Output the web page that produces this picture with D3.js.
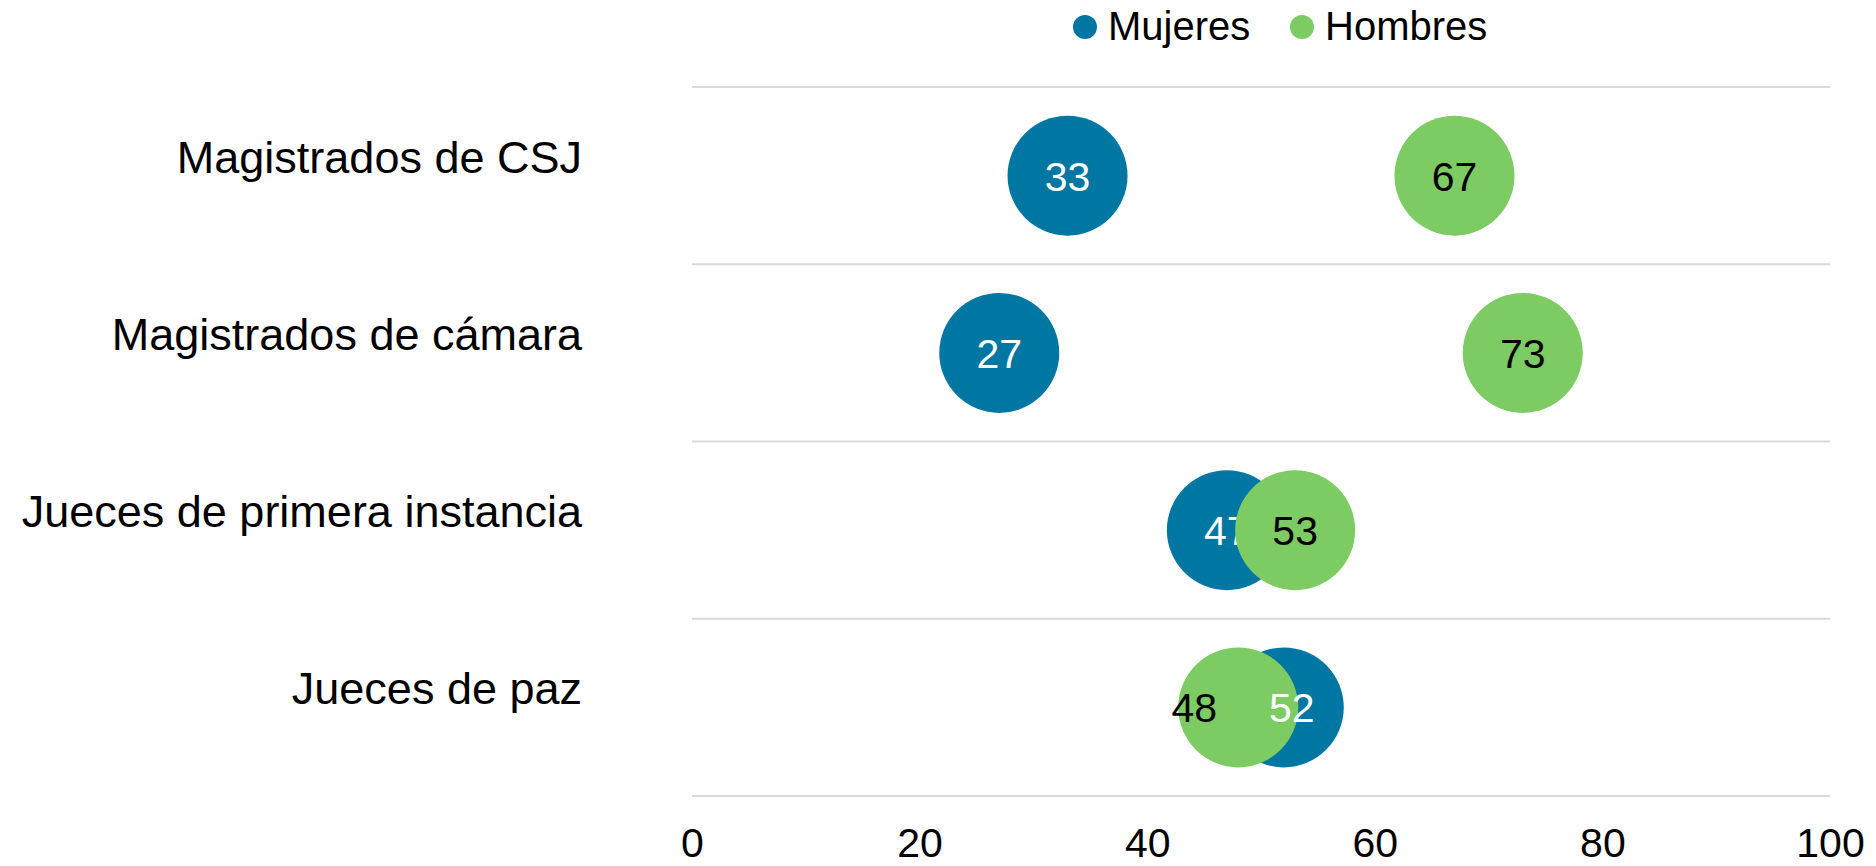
<!DOCTYPE html>
<html>
<head>
<meta charset="utf-8">
<script src="https://cdn.jsdelivr.net/npm/d3@7"></script>
<style>
  body { margin: 0; background: #fff; }
  svg text { font-family: "Liberation Sans", Arial, sans-serif; }
</style>
</head>
<body>
<div id="chart"></div>
<script>
// data
var categories = ['Magistrados de CSJ', 'Magistrados de cámara', 'Jueces de primera instancia', 'Jueces de paz'];
var mujeres = [33, 27, 47, 52];
var hombres = [67, 73, 53, 48];
var xTicks = [0, 20, 40, 60, 80, 100];
var seriesNames = ['Mujeres', 'Hombres'];
// manual label nudges (px), as in the original
var mujeresLabelDx = [0, 0, 0, 8];
var hombresLabelDx = [0, 0, 0, -44];

var width = 1876, height = 866,
    blue = '#0077a2', green = '#7dcb63',
    r = 60;

var svg = d3.select('#chart').append('svg')
    .attr('width', width)
    .attr('height', height);

var x = d3.scaleLinear().domain([0, 100]).range([692, 1830]);
var y = d3.scaleBand().domain(categories).range([87, 796]);

// horizontal separators
var edges = categories.map(function (c) { return y(c); }).concat([y.range()[1]]);
svg.append('g').selectAll('line')
    .data(edges)
  .enter().append('line')
    .attr('x1', x(0)).attr('x2', x(100))
    .attr('y1', function (d) { return d; })
    .attr('y2', function (d) { return d; })
    .attr('stroke', '#d9d9d9')
    .attr('stroke-width', 2);

// x axis labels
var xAxis = d3.axisBottom(x).tickValues(xTicks).tickSize(0).tickPadding(0);
var ax = svg.append('g')
    .attr('transform', 'translate(0,830)')
    .call(xAxis);
ax.select('.domain').remove();
ax.selectAll('text')
    .attr('dy', null)
    .attr('y', 27)
    .attr('font-size', 41)
    .attr('font-family', '"Liberation Sans", Arial, sans-serif')
    .attr('fill', '#000');

// category labels
svg.append('g').selectAll('text')
    .data(categories)
  .enter().append('text')
    .attr('x', 582)
    .attr('y', function (d) { return y(d) + y.bandwidth() / 2 - 3; })
    .attr('text-anchor', 'end')
    .attr('font-size', 45)
    .attr('fill', '#000')
    .text(function (d) { return d; });

var rows = categories.map(function (c, i) {
    return { cat: c, m: mujeres[i], h: hombres[i], mdx: mujeresLabelDx[i], hdx: hombresLabelDx[i] };
});
var cy = function (d) { return y(d.cat) + y.bandwidth() / 2; };

function labels(g, sel, key, dxKey, col) {
    g.selectAll('text')
        .data(sel)
      .enter().append('text')
        .attr('x', function (d) { return x(d[key]) + d[dxKey]; })
        .attr('y', function (d) { return cy(d) + 15; })
        .attr('text-anchor', 'middle')
        .attr('font-size', 41)
        .attr('fill', col)
        .text(function (d) { return d[key]; });
}

// Mujeres circles
svg.append('g').selectAll('circle')
    .data(rows)
  .enter().append('circle')
    .attr('cx', function (d) { return x(d.m); })
    .attr('cy', cy)
    .attr('r', r)
    .attr('fill', blue);

// Mujeres labels behind the green circle where it sits to the right
labels(svg.append('g'), rows.filter(function (d) { return d.m <= d.h; }), 'm', 'mdx', '#fff');

// Hombres circles
svg.append('g').selectAll('circle')
    .data(rows)
  .enter().append('circle')
    .attr('cx', function (d) { return x(d.h); })
    .attr('cy', cy)
    .attr('r', r)
    .attr('fill', green);

labels(svg.append('g'), rows.filter(function (d) { return d.m > d.h; }), 'm', 'mdx', '#fff');
labels(svg.append('g'), rows, 'h', 'hdx', '#000');

// legend
var legend = svg.append('g').selectAll('g')
    .data(seriesNames)
  .enter().append('g')
    .attr('transform', function (d, i) { return 'translate(' + (i === 0 ? 1085 : 1302) + ',27)'; });
legend.append('circle')
    .attr('r', 12)
    .attr('fill', function (d, i) { return i === 0 ? blue : green; });
legend.append('text')
    .attr('x', 23)
    .attr('y', 13)
    .attr('font-size', 40)
    .attr('fill', '#000')
    .text(function (d) { return d; });
</script>
</body>
</html>
